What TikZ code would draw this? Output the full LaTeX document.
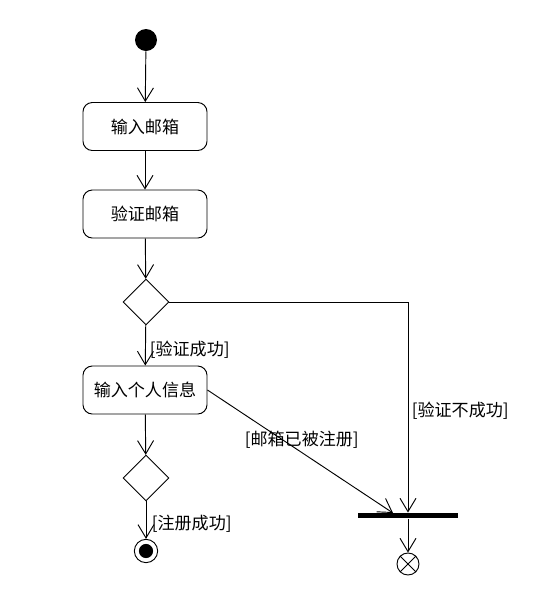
\documentclass[tikz,border=0pt]{standalone}
\usepackage{fontspec}
\usepackage{tikz}
\usetikzlibrary{arrows.meta,shapes.geometric}
\newfontfamily\cjk{Noto Sans CJK SC}

\tikzset{
    action/.style={draw, rounded corners=7pt, minimum width=93pt, minimum height=36pt, inner sep=0pt},
    choice/.style={draw, diamond, minimum width=34.5pt, minimum height=34.5pt, inner sep=0pt},
    flow/.style={-{Straight Barb[length=10pt,width=12pt]}},
    guard/.style={inner sep=1pt},
}

\begin{document}
\begin{tikzpicture}[x=0.75pt, y=-0.75pt, line width=0.7pt, font=\cjk\fontsize{12.8}{15}\selectfont]
    \useasboundingbox (0,0) rectangle (546,601);
    % Draw the nodes
    \node[circle, fill=black, minimum size=16.5pt, inner sep=0pt] (start) at (146,40) {};
    \node[action] (mail) at (145,126.5) {输入邮箱};
    \node[action] (check) at (145,214) {验证邮箱};
    \node[choice] (ok) at (146,302) {};
    \node[action] (info) at (145,390) {输入个人信息};
    \node[choice] (reg) at (146,478) {};
    \node[circle, draw, minimum size=17.5pt, inner sep=0pt] (done) at (146,551) {};
    \fill (done) circle (5.3pt);
    \node[fill=black, minimum width=74.5pt, minimum height=3.8pt, inner sep=0pt] (bar) at (408,515.5) {};
    \node[circle, draw, minimum size=16.5pt, inner sep=0pt] (stop) at (408,564) {};
    \draw (stop.north east) -- (stop.south west);
    \draw (stop.north west) -- (stop.south east);
    \coordinate (turn) at (408,302);
    \coordinate (barin) at (393,513);
    % Draw the flows
    \draw[flow] (start) -- (mail);
    \draw[flow] (mail) -- (check);
    \draw[flow] (check) -- (ok);
    \draw[flow] (ok) -- (info);
    \draw[flow] (info) -- (reg);
    \draw[flow] (reg) -- (done);
    \draw[flow] (ok.east) -- (turn) -- (bar.north);
    \draw[flow] (info.east) -- (barin);
    \draw[flow] (bar) -- (stop);
    % Draw the guards
    \node[guard, anchor=west] at (148,350) {[验证成功]};
    \node[guard, anchor=west] at (150,524) {[注册成功]};
    \node[guard, anchor=west] at (410,411) {[验证不成功]};
    \node[guard, anchor=west] at (243,440) {[邮箱已被注册]};
\end{tikzpicture}
\end{document}
